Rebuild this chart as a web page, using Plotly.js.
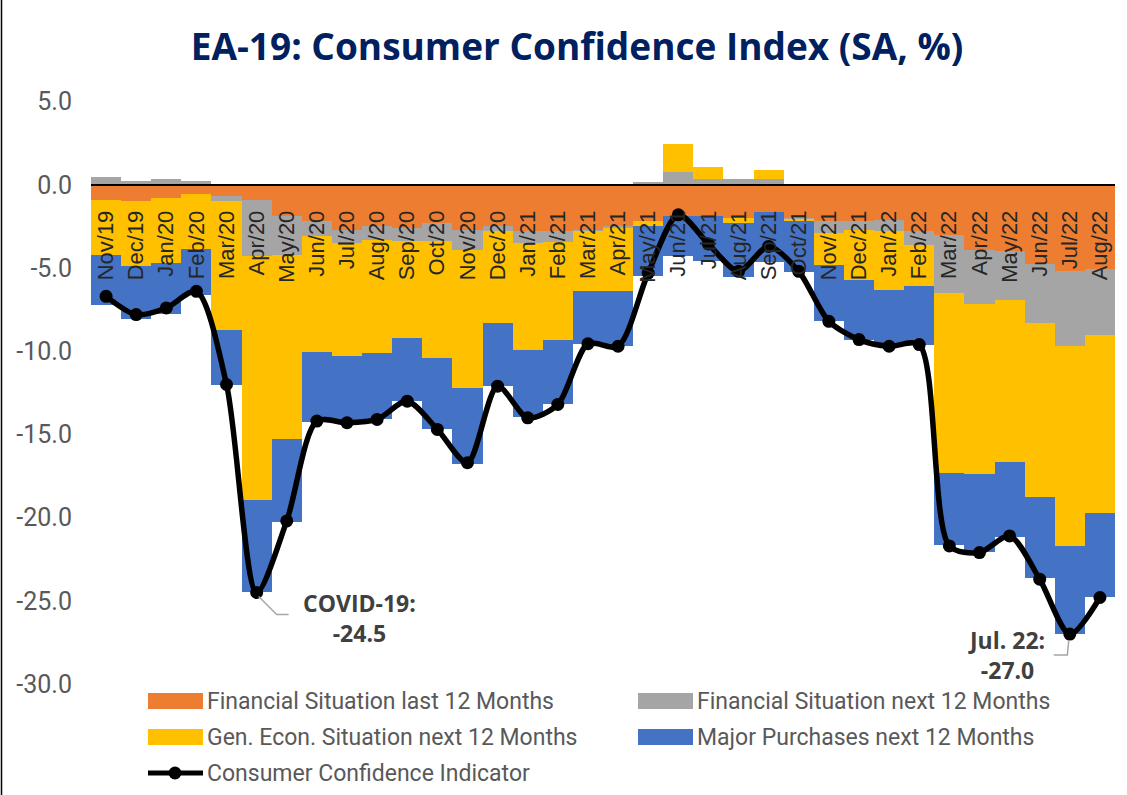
<!DOCTYPE html>
<html>
<head>
<meta charset="utf-8">
<script src="https://cdn.plot.ly/plotly-3.0.1.min.js"></script>
<style>html,body{margin:0;padding:0;background:#fff;}#chart{width:1127px;height:795px;}</style>
</head>
<body>
<div id="chart"></div>
<script>
const categories = ["Nov/19","Dec/19","Jan/20","Feb/20","Mar/20","Apr/20","May/20","Jun/20","Jul/20","Aug/20","Sep/20","Oct/20","Nov/20","Dec/20","Jan/21","Feb/21","Mar/21","Apr/21","May/21","Jun/21","Jul/21","Aug/21","Sep/21","Oct/21","Nov/21","Dec/21","Jan/22","Feb/22","Mar/22","Apr/22","May/22","Jun/22","Jul/22","Aug/22"];
const finLast = [-0.9,-0.95,-0.8,-0.55,-0.7,-0.9,-1.9,-2.2,-2.7,-2.5,-2.6,-2.3,-2.7,-2.5,-2.8,-2.8,-2.7,-2.45,-2.15,-1.85,-1.85,-2.0,-1.65,-2.0,-2.2,-2.2,-2.1,-2.75,-3.0,-3.9,-4.0,-4.75,-5.2,-5.05];
const finNext = [0.5,0.25,0.35,0.25,-0.3,-3.4,-2.3,-0.85,-0.8,-0.8,-0.8,-1.1,-1.2,-0.3,-0.7,-0.65,-0.05,-0.15,0.2,0.75,0.35,0.35,0.35,-0.05,-0.7,-0.5,-0.65,-0.85,-3.5,-3.25,-2.95,-3.55,-4.5,-4.0];
const genEcon = [-3.3,-3.9,-3.9,-3.3,-7.7,-14.65,-11.1,-7.0,-6.8,-6.8,-5.8,-7.0,-8.3,-5.5,-6.45,-5.9,-3.6,-3.75,-0.35,1.7,0.7,-0.3,0.55,-0.1,-1.9,-3.0,-3.55,-2.5,-10.8,-10.2,-9.7,-10.45,-12.0,-10.7];
const majorPurch = [-3.05,-3.2,-3.05,-2.8,-3.3,-5.55,-4.95,-4.2,-4.0,-4.0,-3.8,-4.25,-4.55,-3.8,-4.0,-3.85,-3.2,-3.35,-3.0,-2.4,-2.75,-3.25,-3.0,-3.1,-3.4,-3.6,-3.4,-3.5,-4.35,-4.7,-4.5,-4.9,-5.3,-5.05];
const cci = [-6.7,-7.8,-7.4,-6.4,-12.0,-24.5,-20.2,-14.2,-14.3,-14.1,-13.0,-14.7,-16.7,-12.1,-14.0,-13.2,-9.55,-9.7,-5.3,-1.8,-3.55,-5.2,-3.7,-5.2,-8.2,-9.3,-9.7,-9.6,-21.7,-22.1,-21.1,-23.7,-27.0,-24.8];
const yTickVals = [5,0,-5,-10,-15,-20,-25,-30];
const yTickText = ["5.0","0.0","-5.0","-10.0","-15.0","-20.0","-25.0","-30.0"];
const seriesNames = ["Financial Situation last 12 Months","Financial Situation next 12 Months","Gen. Econ. Situation next 12 Months","Major Purchases next 12 Months","Consumer Confidence Indicator"];
const seriesColors = ["#ED7D31","#A5A5A5","#FFC000","#4472C4","#000000"];
const annoTexts = ["COVID-19:<br>-24.5","Jul. 22:<br>-27.0"];
const annoIdx = [5, 32];

const yMin = -30, yMax = 5.7;
const barSeries = [finLast, finNext, genEcon, majorPurch];
const traces = barSeries.map((vals, i) => ({
  type: "bar", x: categories, y: vals, name: seriesNames[i],
  marker: {color: seriesColors[i], line: {width: 0}}, width: 1, showlegend: false, hoverinfo: "skip"
}));
traces.push({
  type: "scatter", mode: "lines+markers", x: categories, y: cci, name: seriesNames[4],
  line: {color: "#000", width: 5.5, shape: "spline", smoothing: 0.8},
  marker: {color: "#000", size: 13}, showlegend: false
});

// manual legend (wide swatches like the original)
const plotW = 1024, plotH = 594, mL = 91, mT = 90;
const px = v => (v - mL) / plotW;
const py = v => (mT + plotH - v) / plotH;
const legendRows = [701, 737, 773];
const legendItems = [
  {col: 0, row: 0, s: 0}, {col: 1, row: 0, s: 1},
  {col: 0, row: 1, s: 2}, {col: 1, row: 1, s: 3},
  {col: 0, row: 2, s: 4}
];
const colX = [148, 638];
const shapes = [];
const annotations = [];
legendItems.forEach(it => {
  const x0 = colX[it.col], x1 = x0 + 55, yc = legendRows[it.row];
  if (it.s < 4) {
    shapes.push({type: "rect", xref: "paper", yref: "paper", x0: px(x0), x1: px(x1), y0: py(yc + 8), y1: py(yc - 8),
      fillcolor: seriesColors[it.s], line: {width: 0}});
  } else {
    shapes.push({type: "line", xref: "paper", yref: "paper", x0: px(x0), x1: px(x1), y0: py(yc), y1: py(yc),
      line: {color: "#000", width: 5}});
    shapes.push({type: "circle", xref: "paper", yref: "paper", xsizemode: "pixel", ysizemode: "pixel",
      xanchor: px(x0 + 27), yanchor: py(yc), x0: -6.5, x1: 6.5, y0: -6.5, y1: 6.5, fillcolor: "#000", line: {width: 0}});
  }
  annotations.push({xref: "paper", yref: "paper", x: px(x1 + 2), y: py(yc), xanchor: "left", yanchor: "middle",
    text: seriesNames[it.s], showarrow: false, font: {family: "Roboto, sans-serif", size: 23, color: "#595959"}});
});

// callouts
const calloutShift = [[103, -26], [-63, -21]];
const calloutPaths = ["M 2,-4 L 20,-22 L 32,-22", "M -1,-6 L -2.5,-21 L -16,-21"];
annoIdx.forEach((idx, k) => {
  annotations.push({xref: "x", yref: "y", x: categories[idx], y: cci[idx], xshift: calloutShift[k][0], yshift: calloutShift[k][1],
    text: "<b>" + annoTexts[k] + "</b>", showarrow: false, align: "center", borderpad: 0,
    font: {family: "Open Sans, sans-serif", size: 23, color: "#404040"}});
  shapes.push({type: "path", xref: "x", yref: "y", xsizemode: "pixel", ysizemode: "pixel",
    xanchor: categories[idx], yanchor: cci[idx], path: calloutPaths[k], line: {color: "#A6A6A6", width: 1.5}});
});

// frame line
shapes.push({type: "line", xref: "paper", yref: "paper", x0: px(1.5), x1: px(1.5), y0: py(0), y1: py(795), line: {color: "#000", width: 1.5}});

const layout = {
  width: 1127, height: 795,
  margin: {l: mL, r: 12, t: mT, b: 111, pad: 0},
  paper_bgcolor: "#fff", plot_bgcolor: "#fff",
  barmode: "relative", bargap: 0,
  showlegend: false,
  title: {text: "<b>EA-19: Consumer Confidence Index (SA, %)</b>", xref: "container", yref: "container",
    x: 577 / 1127, y: 1 - 47 / 795, xanchor: "center", yanchor: "middle",
    font: {family: "Open Sans, sans-serif", size: 37, color: "#002060"}},
  xaxis: {type: "category", range: [-0.5, categories.length - 0.5], anchor: "free", position: (0 - yMin) / (yMax - yMin),
    showline: true, linecolor: "#000", linewidth: 2, ticks: "", tickangle: -90, showgrid: false, zeroline: false,
    layer: "above traces", ticklabelstandoff: 16,
    tickfont: {family: "Liberation Sans, Arial, sans-serif", size: 22, color: "#262626"}},
  yaxis: {range: [yMin, yMax], tickvals: yTickVals, ticktext: yTickText, showgrid: false, zeroline: false, showline: false,
    ticks: "", ticklabelstandoff: 18, tickfont: {family: "Roboto, sans-serif", size: 25, color: "#595959"}},
  shapes: shapes,
  annotations: annotations
};
Plotly.newPlot("chart", traces, layout, {displayModeBar: false, staticPlot: true});
</script>
</body>
</html>
